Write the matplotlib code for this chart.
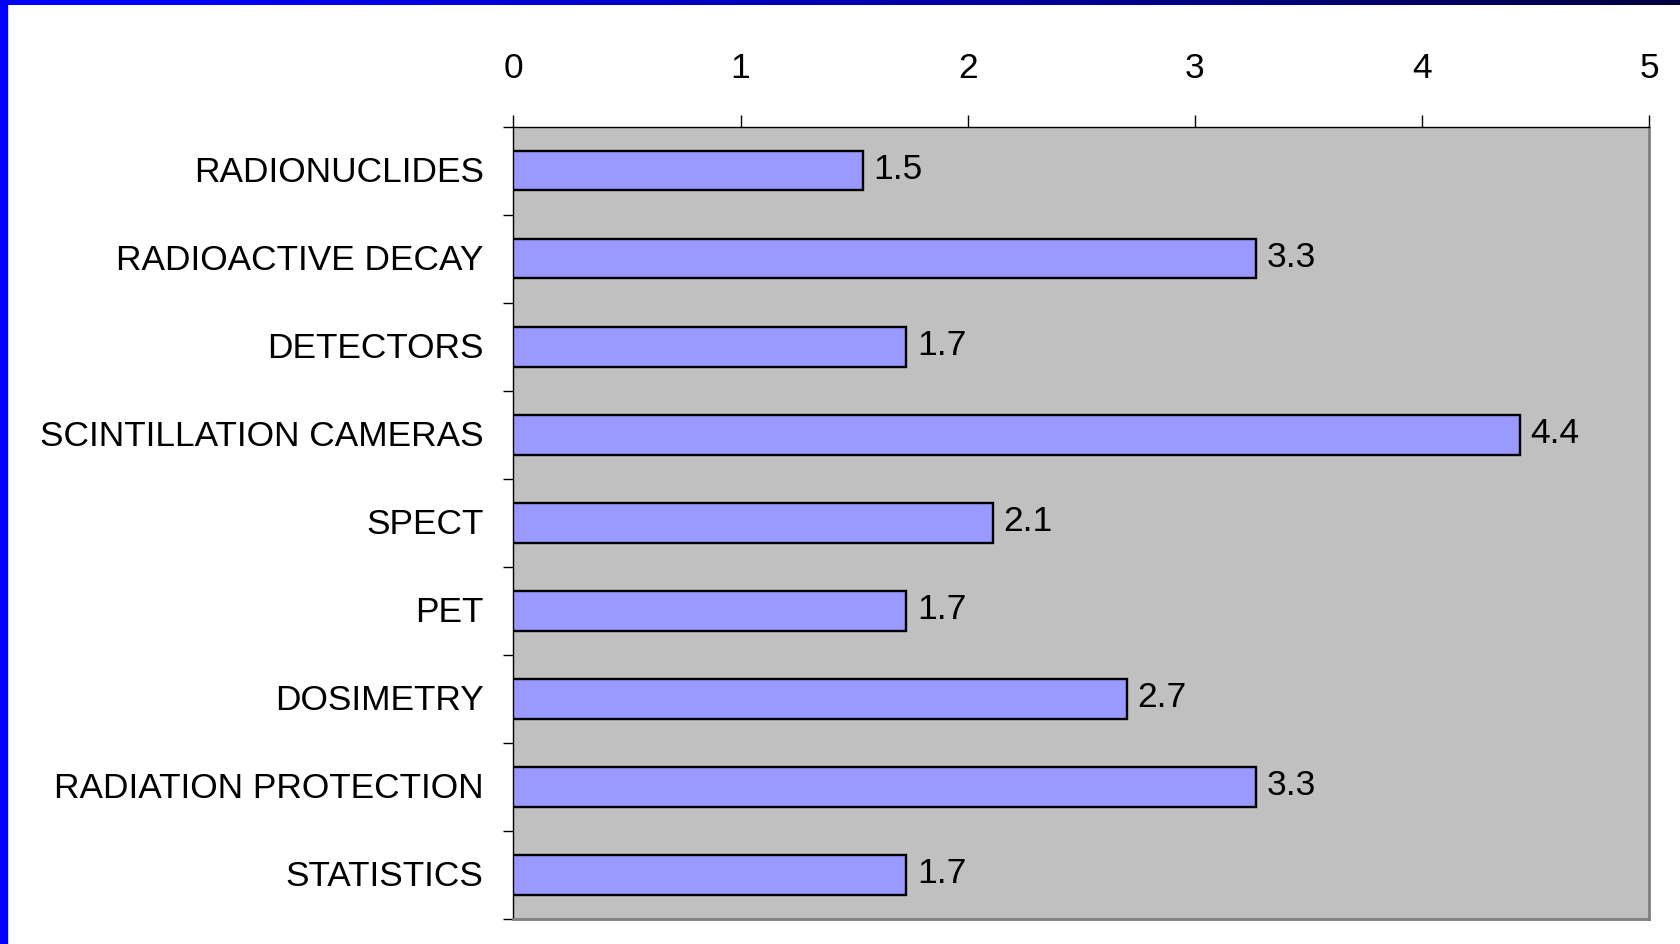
import numpy as np
import matplotlib
matplotlib.use("Agg")
import matplotlib.pyplot as plt
from matplotlib.patches import Rectangle
from matplotlib.transforms import ScaledTranslation

topics = ["RADIONUCLIDES", "RADIOACTIVE DECAY", "DETECTORS",
          "SCINTILLATION CAMERAS", "SPECT", "PET", "DOSIMETRY",
          "RADIATION PROTECTION", "STATISTICS"]
scores = [1.54, 3.27, 1.73, 4.43, 2.11, 1.73, 2.70, 3.27, 1.73]
score_labels = ["1.5", "3.3", "1.7", "4.4", "2.1", "1.7", "2.7", "3.3", "1.7"]
x_ticks = [0, 1, 2, 3, 4, 5]

plt.rcParams['font.family'] = ['Liberation Sans', 'DejaVu Sans']

W, H = 1681, 945
fig = plt.figure(figsize=(W / 100, H / 100), dpi=100)
fig.patch.set_facecolor('white')

# slide frame: blue strip on the left, gradient strip on top
fig.add_artist(Rectangle((0, 0), 7 / W, 1, transform=fig.transFigure,
                         color='#0000FF', zorder=5))
grad = fig.add_axes([0, 1 - 6 / H, 1, 6 / H])
g = np.linspace(0, 1, 256)
cols = np.zeros((1, 256, 3))
cols[0, :, 2] = 1.0 - 0.75 * g ** 1.3
grad.imshow(cols, aspect='auto')
grad.axis('off')

# plot area
left, right, top, bottom = 513.5, 1649, 127.6, 920
ax = fig.add_axes([left / W, 1 - bottom / H, (right - left) / W, (bottom - top) / H])
ax.set_facecolor('#C0C0C0')

ypos = np.arange(len(topics))
ax.barh(ypos, scores, height=0.45, color='#9999FF', edgecolor='black',
        linewidth=1.7, zorder=3)
for y, v, lbl in zip(ypos, scores, score_labels):
    ax.annotate(lbl, (v, y), xytext=(7.5, 1.5), textcoords='offset points',
                va='center', ha='left', fontsize=25.5, zorder=4)

ax.set_xlim(0, 5)
ax.set_ylim(len(topics) - 0.5, -0.5)

ax.xaxis.tick_top()
ax.set_xticks(x_ticks)
ax.tick_params(axis='x', direction='out', length=8.5, width=1, pad=22,
               labelsize=25.5)

ax.set_yticks(ypos)
ax.set_yticklabels(topics)
ax.tick_params(axis='y', which='major', length=0, pad=21.5, labelsize=25.4)
ax.set_yticks(np.arange(-0.5, len(topics), 1), minor=True)
ax.tick_params(axis='y', which='minor', direction='out', length=7, width=1)
for t in ax.get_yticklabels():
    t.set_transform(t.get_transform() + ScaledTranslation(0, 0.025, fig.dpi_scale_trans))

for s in ['top', 'left']:
    ax.spines[s].set_color('black')
    ax.spines[s].set_linewidth(1)
for s in ['right', 'bottom']:
    ax.spines[s].set_color('#808080')
    ax.spines[s].set_linewidth(2)

fig.savefig('out.png', dpi=100)
